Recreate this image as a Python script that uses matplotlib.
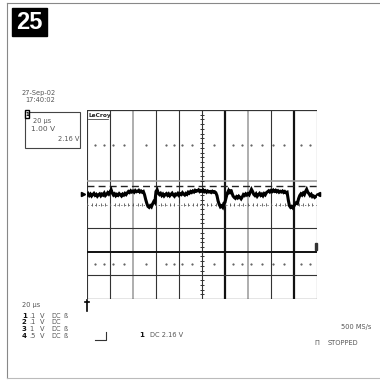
import numpy as np
import matplotlib
matplotlib.use("Agg")
import matplotlib.pyplot as plt
from matplotlib.patches import Rectangle

# channel 1 trace in divisions, one sample every 1 us (20 us/div)
trace1 = [
    0.40, 0.46, 0.38, 0.44, 0.36, 0.42, 0.47, 0.39, 0.43, 0.35, 0.41, 0.45, 0.37, 0.44, 0.40, 0.48, 0.38, 0.43, 0.50, 0.44,
    0.52, 0.62, 0.48, 0.40, 0.45, 0.37, 0.43, 0.39, 0.46, 0.41, 0.36, 0.44, 0.40, 0.47, 0.42, 0.49, 0.55, 0.51, 0.58, 0.53,
    0.57, 0.52, 0.59, 0.54, 0.56, 0.60, 0.53, 0.57, 0.52, 0.55, 0.42, 0.22, 0.05, -0.08, -0.12, -0.05, -0.10, 0.02, 0.12, 0.08,
    0.55, 0.62, 0.48, 0.42, 0.47, 0.38, 0.44, 0.36, 0.42, 0.46, 0.39, 0.45, 0.37, 0.43, 0.48, 0.40, 0.35, 0.44, 0.41, 0.47,
    0.39, 0.45, 0.42, 0.50, 0.44, 0.40, 0.47, 0.43, 0.52, 0.48, 0.55, 0.51, 0.57, 0.53, 0.60, 0.56, 0.58, 0.62, 0.55, 0.59,
    0.56, 0.61, 0.54, 0.58, 0.52, 0.57, 0.53, 0.55, 0.51, 0.56, 0.52, 0.54, 0.50, 0.38, 0.15, 0.00, -0.10, -0.06, -0.12, 0.05,
    0.10, 0.30, 0.48, 0.58, 0.45, 0.63, 0.50, 0.36, 0.30, 0.26, 0.33, 0.28, 0.35, 0.30, 0.24, 0.32, 0.42, 0.38, 0.45, 0.40,
    0.46, 0.41, 0.52, 0.64, 0.55, 0.43, 0.38, 0.45, 0.35, 0.42, 0.47, 0.39, 0.44, 0.37, 0.46, 0.41, 0.50, 0.54, 0.58, 0.53,
    0.59, 0.55, 0.61, 0.56, 0.60, 0.54, 0.58, 0.52, 0.56, 0.53, 0.57, 0.51, 0.55, 0.50, 0.52, 0.20, -0.05, -0.12, -0.08, -0.14,
    -0.06, 0.02, 0.08, 0.05, 0.25, 0.38, 0.45, 0.40, 0.48, 0.42, 0.55, 0.64, 0.52, 0.46, 0.38, 0.43, 0.33, 0.36, 0.30, 0.34, 0.38,
]
sample_us = 1.0
us_per_div = 20.0

cursor_level = 0.78   # dashed cursor
ref_level = 1.0       # grey reference line
ch2_level = -2.0      # flat channel 2 trace

# sparse dotted rows (scan leftovers on the graticule)
dot_rows = [2.5, -2.5]
dot_x = [0.35, 0.75, 1.15, 1.6, 2.55, 3.45, 3.8, 4.15, 4.55, 5.5, 6.35, 6.75, 7.15, 7.6, 8.1, 8.55, 9.3, 9.7]

page_no = "25"
date_lines = ["27-Sep-02", "17:40:02"]
ch1_box = ["20 µs", "1.00 V", "2.16 V"]
timebase = "20 µs"
chan_ids = ["1", "2", "3", "4"]
chan_scale = [".1", ".1", "1", ".5"]
chan_coupling = ["DC", "DC", "DC", "DC"]
chan_bwl = ["ß", "", "ß", "ß"]
trigger_text = "DC 2.16 V"
sample_rate = "500 MS/s"
status = "STOPPED"

W = H = 380
fig = plt.figure(figsize=(3.8, 3.8), dpi=100)
fig.patch.set_facecolor("white")

# page overlay in pixel coordinates
pg = fig.add_axes([0, 0, 1, 1])
pg.set_xlim(0, W)
pg.set_ylim(H, 0)
pg.axis("off")

# graticule axes
gx0, gy0, gx1, gy1 = 87, 110, 317, 299
ax = fig.add_axes([gx0 / W, 1 - gy1 / H, (gx1 - gx0) / W, (gy1 - gy0) / H])
ax.set_xlim(0, 10)
ax.set_ylim(-4, 4)
ax.axis("off")

grey = "#444444"
txt = dict(fontsize=4.8, color="#555555", family="DejaVu Sans")

# page frame
pg.plot([7, 7], [3, 378], color="#888888", lw=0.8)
pg.plot([7, 380], [3, 3], color="#888888", lw=0.8)
pg.plot([7, 380], [378, 378], color="#bbbbbb", lw=0.8)

pg.add_patch(Rectangle((12, 8), 35, 28, color="black"))
pg.text(29.5, 22.5, page_no, color="white", fontsize=17, fontweight="bold",
        family="Liberation Sans", ha="center", va="center")

# vertical graticule
for d in range(11):
    if d in (6, 9):
        ax.axvline(d, color="#111111", lw=1.6)
    elif d in (2, 7):
        ax.axvline(d, color="#999999", lw=1.1)
    else:
        ax.axvline(d, color="#333333", lw=0.8)

# horizontal graticule
for v, c, lw in [(4, "#333333", 0.9), (-4, "#333333", 0.9), (-1, "#333333", 0.8),
                 (-3, "#333333", 0.8), (ref_level, "#999999", 1.1)]:
    ax.axhline(v, color=c, lw=lw)
ax.axhline(0, color="#666666", lw=0.6, ls=(0, (1.5, 3)))
ax.axhline(ch2_level, color="#111111", lw=1.4)

# centre axis minor ticks
ticks = np.arange(-4, 4.01, 0.2)
ax.hlines(ticks, 4.93, 5.07, color="#333333", lw=0.7)
tx = np.arange(0, 10.01, 0.2)
ax.vlines(tx, -0.07, 0.07, color="#555555", lw=0.6)

for r in dot_rows:
    ax.plot(dot_x, [r] * len(dot_x), ls="none", marker="s", ms=0.6, color="#666666")

ax.axhline(cursor_level, color="#222222", lw=1.0, ls=(0, (5, 3)))

t_div = np.arange(len(trace1)) * sample_us / us_per_div
ax.plot(t_div, trace1, color="black", lw=2.2, solid_joinstyle="miter")

# trace markers
pg.plot([83], [194], marker=">", ms=3, color="black")
pg.plot([318], [194], marker="<", ms=3, color="black")
pg.add_patch(Rectangle((314.5, 243), 2.5, 7, color="#333333"))
pg.plot([gx1, 317], [252.7, 252.7], color="#111111", lw=1.4)

# trigger marker below graticule
pg.plot([87, 87], [300, 311], color="black", lw=1.2)
pg.plot([85, 89], [302, 302], color="black", lw=1.2)

pg.text(88.5, 115.5, "LeCroy", fontsize=4.2, fontweight="bold", color="#222222", va="center")
pg.plot([88, 108], [118.5, 118.5], color="#222222", lw=0.5)

# date / time
pg.text(22, 93, date_lines[0], va="center", **txt)
pg.text(25, 100.5, date_lines[1], va="center", **txt)

# channel 1 box
pg.add_patch(Rectangle((25, 112), 55, 36, fill=False, ec=grey, lw=0.8))
pg.add_patch(Rectangle((25, 110), 4, 8, fc="white", ec="black", lw=1.0))
pg.text(27, 114, "1", fontsize=4, fontweight="bold", ha="center", va="center")
pg.text(33, 120.5, ch1_box[0], va="center", **txt)
pg.text(31, 129, ch1_box[1], va="center", **dict(txt, fontsize=5.4))
pg.text(79, 139, ch1_box[2], va="center", ha="right", **txt)

# bottom status block
pg.text(22, 305, timebase, va="center", **txt)
row_y = [316, 322.5, 329, 335.5]
for i, y in enumerate(row_y):
    pg.text(22, y, chan_ids[i], va="center", fontsize=5, fontweight="bold", color="#111111")
    pg.text(29, y, chan_scale[i], va="center", **txt)
    pg.text(40, y, "V", va="center", **txt)
    pg.text(51, y, chan_coupling[i], va="center", **txt)
    pg.text(63, y, chan_bwl[i], va="center", **txt)

pg.plot([95, 106, 106], [339.5, 339.5, 331.5], color="#333333", lw=0.8)
pg.text(139, 335, "1", va="center", fontsize=5, fontweight="bold", color="#111111")
pg.text(150, 335, trigger_text, va="center", **txt)

pg.text(371, 327, sample_rate, va="center", ha="right", **txt)
pg.text(314, 343, "П", va="center", **txt)
pg.text(328, 343, status, va="center", **txt)

fig.savefig("out.png", dpi=100, facecolor="white")
plt.close(fig)
